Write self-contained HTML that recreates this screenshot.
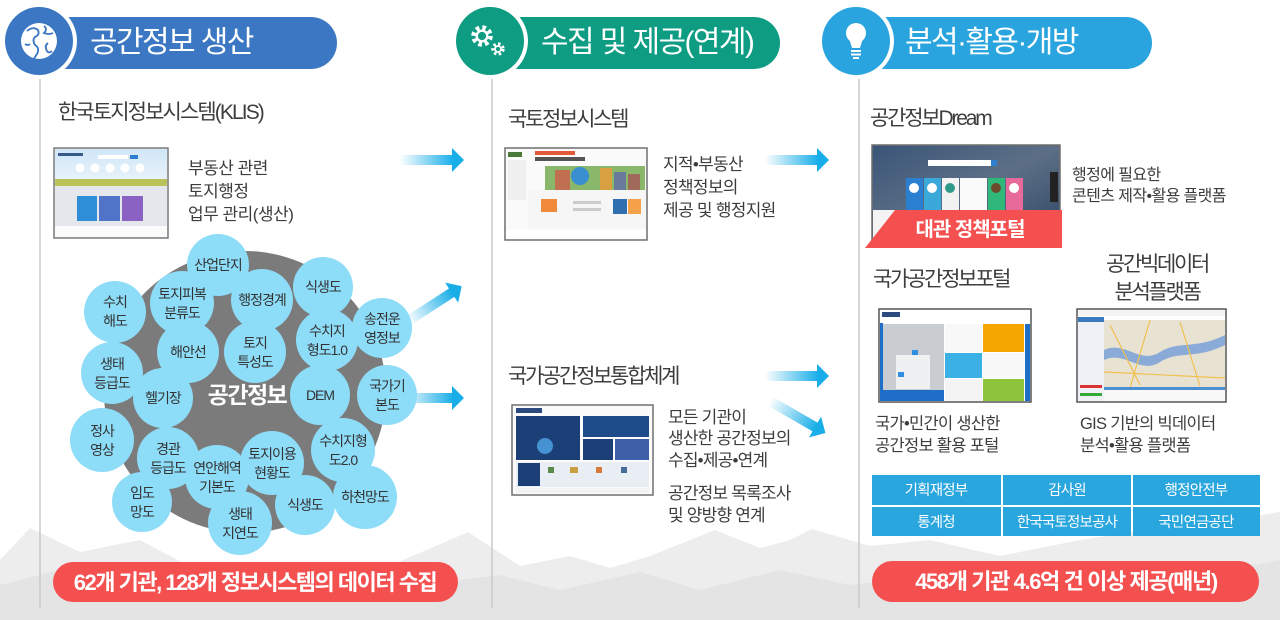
<!DOCTYPE html>
<html><head><meta charset="utf-8">
<style>
html,body{margin:0;padding:0;background:#fff;}
svg{display:block;}
text{font-family:"Liberation Sans","Noto Sans CJK KR",sans-serif;}
.t{fill:#3d3d3d;}
.b{fill:#333;font-size:14px;letter-spacing:-1px;text-anchor:middle;}
</style></head>
<body>
<svg width="1280" height="620" viewBox="0 0 1280 620" xmlns="http://www.w3.org/2000/svg">
<defs>
  <linearGradient id="ag" x1="0" y1="0" x2="1" y2="0">
    <stop offset="0" stop-color="#1aaee8" stop-opacity="0"/>
    <stop offset="1" stop-color="#1aaee8" stop-opacity="1"/>
  </linearGradient>
  <linearGradient id="sky" x1="0" y1="0" x2="0" y2="1">
    <stop offset="0" stop-color="#cfe6f7"/><stop offset="1" stop-color="#eaf3fa"/>
  </linearGradient>
  <linearGradient id="dream" x1="0" y1="0" x2="1" y2="1">
    <stop offset="0" stop-color="#3a5578"/><stop offset="0.5" stop-color="#5c6f86"/><stop offset="1" stop-color="#2f4664"/>
  </linearGradient>
  <g id="arrow">
    <rect x="0" y="-5" width="53" height="10" fill="url(#ag)"/>
    <polygon points="52,-12 64,0 52,12" fill="#1aaee8"/>
  </g>
</defs>

<!-- background mountains -->
<polygon points="0,560 30,528 80,552 140,540 200,572 300,588 380,570 468,532 520,566 570,556 610,568 650,556 690,540 715,530 760,548 790,540 812,529 870,546 930,540 1000,556 1080,540 1160,528 1220,522 1280,512 1280,620 0,620" fill="#ededed"/>
<polygon points="0,585 60,570 120,590 200,580 330,600 420,585 500,575 560,590 640,572 700,590 780,570 850,585 940,575 1050,585 1140,565 1200,575 1280,560 1280,620 0,620" fill="#e4e4e4"/>
<rect x="0" y="606" width="1280" height="14" fill="#e4e4e4"/>

<!-- vertical lines -->
<line x1="40" y1="72" x2="40" y2="608" stroke="#c9c9c9" stroke-width="1.5"/>
<line x1="492" y1="72" x2="492" y2="608" stroke="#c9c9c9" stroke-width="1.5"/>
<line x1="859" y1="72" x2="859" y2="608" stroke="#c9c9c9" stroke-width="1.5"/>

<!-- HEADER 1 -->
<path d="M40,17 H311 A26,26 0 0 1 311,69 H40 Z" fill="#3b77c2"/>
<circle cx="39" cy="41" r="38" fill="#fff"/>
<circle cx="39" cy="41" r="34" fill="#3b77c2"/>
<circle cx="39" cy="41" r="18" fill="#fff"/>
<path d="M27,31 q6,-5 11,-1 q2,5 -3,7 q-3,3 0,8 q5,3 2,9 q-2,3 -4,6 M44,26 q4,3 0,7 q5,2 9,0 M48,43 q-4,3 -1,8 q2,3 5,0 M25,44 q3,2 5,0" stroke="#3b77c2" stroke-width="1.8" fill="none"/>
<text x="90" y="52" fill="#fff" font-size="30" style="letter-spacing:-1.6px">공간정보 생산</text>

<!-- HEADER 2 -->
<path d="M500,17 H754 A26,26 0 0 1 754,69 H500 Z" fill="#0e9c83"/>
<circle cx="490" cy="41" r="38" fill="#fff"/>
<circle cx="490" cy="41" r="34" fill="#0e9c83"/>
<circle cx="482" cy="36" r="8" fill="none" stroke="#fff" stroke-width="5.5" stroke-dasharray="3.4 2.9"/>
<circle cx="482" cy="36" r="5.3" fill="none" stroke="#fff" stroke-width="2.4"/>
<circle cx="498" cy="49" r="4.8" fill="none" stroke="#fff" stroke-width="3.8" stroke-dasharray="2.3 2.2"/>
<circle cx="498" cy="49" r="3" fill="none" stroke="#fff" stroke-width="1.7"/>
<text x="541" y="52" fill="#fff" font-size="30" style="letter-spacing:-1.6px">수집 및 제공(연계)</text>

<!-- HEADER 3 -->
<path d="M868,17 H1126 A26,26 0 0 1 1126,69 H868 Z" fill="#29a4de"/>
<circle cx="856" cy="41" r="38" fill="#fff"/>
<circle cx="856" cy="41" r="34" fill="#29a4de"/>
<circle cx="856" cy="33" r="10" fill="#fff"/>
<polygon points="849,38 863,38 860,48 852,48" fill="#fff"/>
<rect x="851" y="50" width="10" height="2" fill="#fff"/>
<rect x="851" y="53.5" width="10" height="2" fill="#fff"/>
<rect x="853" y="57" width="6" height="2" fill="#fff"/>
<text x="905" y="52" fill="#fff" font-size="30" style="letter-spacing:-1.6px">분석·활용·개방</text>

<!-- COLUMN 1 -->
<text x="58" y="119" class="t" font-size="21" style="letter-spacing:-1.9px">한국토지정보시스템(KLIS)</text>

<!-- KLIS screenshot -->
<g>
  <rect x="54" y="148" width="114" height="90" fill="#f2f4f6" stroke="#7a7a7a" stroke-width="1.5"/>
  <rect x="55" y="149" width="112" height="33" fill="url(#sky)"/>
  <rect x="58" y="153" width="25" height="3" fill="#3a5a8a"/>
  <rect x="98" y="155" width="30" height="4" fill="#fff"/><rect x="130" y="155" width="8" height="4" fill="#2f7fd0"/>
  <circle cx="80" cy="168" r="4.5" fill="#fff"/><circle cx="95" cy="168" r="4.5" fill="#fff"/><circle cx="110" cy="168" r="4.5" fill="#fff"/><circle cx="125" cy="168" r="4.5" fill="#fff"/><circle cx="140" cy="168" r="4.5" fill="#fff"/>
  <rect x="55" y="179" width="112" height="7" fill="#b9c35a"/>
  <rect x="55" y="186" width="112" height="40" fill="#e4e8ec"/>
  <rect x="77" y="196" width="20" height="25" fill="#2f8ed8"/>
  <rect x="99" y="196" width="21" height="25" fill="#4f74c8"/>
  <rect x="122" y="196" width="21" height="25" fill="#8a62c4"/>
  <rect x="55" y="226" width="112" height="11" fill="#fbfbfb"/>
</g>
<text class="t" font-size="17" style="letter-spacing:-0.5px"><tspan x="188" y="174">부동산 관련</tspan><tspan x="188" y="197">토지행정</tspan><tspan x="188" y="220">업무 관리(생산)</tspan></text>

<!-- arrows col1 -->
<use href="#arrow" transform="translate(400,160)"/>
<use href="#arrow" transform="translate(408,321) rotate(-33)"/>
<use href="#arrow" transform="translate(400,398)"/>

<!-- big gray circle & bubbles -->
<circle cx="245" cy="392" r="141" fill="#7b7b7b"/>
<g fill="#8ddcf8">
  <circle cx="218" cy="265" r="31"/>
  <circle cx="115" cy="312" r="31"/>
  <circle cx="182" cy="303" r="32"/>
  <circle cx="262" cy="300" r="31"/>
  <circle cx="323" cy="287" r="30"/>
  <circle cx="382" cy="328" r="30"/>
  <circle cx="188" cy="352" r="31"/>
  <circle cx="255" cy="352" r="31"/>
  <circle cx="327" cy="340" r="31"/>
  <circle cx="112" cy="373" r="31"/>
  <circle cx="163" cy="398" r="30"/>
  <circle cx="320" cy="395" r="30"/>
  <circle cx="387" cy="395" r="30"/>
  <circle cx="102" cy="440" r="32"/>
  <circle cx="168" cy="458" r="31"/>
  <circle cx="343" cy="450" r="32"/>
  <circle cx="272" cy="463" r="32"/>
  <circle cx="217" cy="477" r="32"/>
  <circle cx="142" cy="502" r="30"/>
  <circle cx="305" cy="505" r="30"/>
  <circle cx="365" cy="497" r="32"/>
  <circle cx="240" cy="523" r="32"/>
</g>
<text x="247" y="403" fill="#fff" font-size="23" font-weight="bold" text-anchor="middle" style="letter-spacing:-1.5px">공간정보</text>
<text class="b" x="218" y="270">산업단지</text>
<text class="b"><tspan x="115" y="307">수치</tspan><tspan x="115" y="326">해도</tspan></text>
<text class="b"><tspan x="182" y="299">토지피복</tspan><tspan x="182" y="318">분류도</tspan></text>
<text class="b" x="262" y="305">행정경계</text>
<text class="b" x="323" y="292">식생도</text>
<text class="b"><tspan x="382" y="324">송전운</tspan><tspan x="382" y="343">영정보</tspan></text>
<text class="b" x="188" y="357">해안선</text>
<text class="b"><tspan x="255" y="348">토지</tspan><tspan x="255" y="367">특성도</tspan></text>
<text class="b"><tspan x="327" y="336">수치지</tspan><tspan x="327" y="355">형도1.0</tspan></text>
<text class="b"><tspan x="112" y="369">생태</tspan><tspan x="112" y="388">등급도</tspan></text>
<text class="b" x="163" y="403">헬기장</text>
<text class="b" x="320" y="400">DEM</text>
<text class="b"><tspan x="387" y="391">국가기</tspan><tspan x="387" y="410">본도</tspan></text>
<text class="b"><tspan x="102" y="436">정사</tspan><tspan x="102" y="455">영상</tspan></text>
<text class="b"><tspan x="168" y="454">경관</tspan><tspan x="168" y="473">등급도</tspan></text>
<text class="b"><tspan x="343" y="446">수치지형</tspan><tspan x="343" y="465">도2.0</tspan></text>
<text class="b"><tspan x="272" y="459">토지이용</tspan><tspan x="272" y="478">현황도</tspan></text>
<text class="b"><tspan x="217" y="473">연안해역</tspan><tspan x="217" y="492">기본도</tspan></text>
<text class="b"><tspan x="142" y="498">임도</tspan><tspan x="142" y="517">망도</tspan></text>
<text class="b" x="305" y="510">식생도</text>
<text class="b" x="365" y="502">하천망도</text>
<text class="b"><tspan x="240" y="519">생태</tspan><tspan x="240" y="538">지연도</tspan></text>

<!-- red pill left -->
<rect x="53" y="562" width="405" height="40" rx="20" fill="#f45050"/>
<text x="255" y="590" fill="#fff" font-size="22" font-weight="bold" text-anchor="middle" style="letter-spacing:-1.5px">62개 기관, 128개 정보시스템의 데이터 수집</text>

<!-- COLUMN 2 -->
<text x="508" y="126" class="t" font-size="21" style="letter-spacing:-2.3px">국토정보시스템</text>
<!-- 국토정보시스템 screenshot -->
<g>
  <rect x="505" y="148" width="142" height="92" fill="#fafafa" stroke="#6f6f6f" stroke-width="1.5"/>
  <rect x="508" y="152" width="14" height="5" fill="#4a7a3a"/>
  <rect x="508" y="160" width="18" height="40" fill="#f0f0f0"/>
  <rect x="535" y="151" width="40" height="4" fill="#e35a3a"/>
  <rect x="535" y="157" width="50" height="4" fill="#555"/>
  <rect x="545" y="166" width="100" height="24" fill="#8ab86a"/>
  <circle cx="580" cy="176" r="9" fill="#3a8fd0"/>
  <rect x="600" y="168" width="12" height="22" fill="#d8a040"/>
  <rect x="614" y="172" width="12" height="18" fill="#6a7a9a"/>
  <rect x="555" y="170" width="15" height="20" fill="#c07050"/>
  <rect x="628" y="174" width="12" height="16" fill="#a06a5a"/>
  <rect x="528" y="190" width="118" height="38" fill="#f6f6f6"/>
  <rect x="541" y="199" width="16" height="13" fill="#f08a3a"/>
  <rect x="573" y="201" width="28" height="3" fill="#ccc"/>
  <rect x="573" y="208" width="28" height="3" fill="#ccc"/>
  <rect x="613" y="199" width="14" height="15" fill="#2f6fb0"/>
  <rect x="628" y="199" width="13" height="15" fill="#f4a14a"/>
  <rect x="506" y="230" width="140" height="9" fill="#fff"/>
</g>
<text class="t" font-size="17" style="letter-spacing:-0.7px"><tspan x="663" y="170">지적•부동산</tspan><tspan x="663" y="193">정책정보의</tspan><tspan x="663" y="216">제공 및 행정지원</tspan></text>
<use href="#arrow" transform="translate(765,160)"/>

<text x="508" y="383" class="t" font-size="21" style="letter-spacing:-2.3px">국가공간정보통합체계</text>
<!-- 통합체계 screenshot -->
<g>
  <rect x="512" y="405" width="141" height="90" fill="#fbfbfb" stroke="#6f6f6f" stroke-width="1.5"/>
  <rect x="516" y="408" width="26" height="5" fill="#2a4a80"/>
  <rect x="516" y="416" width="64" height="44" fill="#1d3f78"/>
  <circle cx="545" cy="446" r="8" fill="#4fa8e8" opacity="0.8"/>
  <rect x="583" y="416" width="66" height="21" fill="#1e4b8a"/>
  <rect x="583" y="439" width="30" height="21" fill="#1d3f78"/>
  <rect x="615" y="439" width="34" height="21" fill="#3f5fa8"/>
  <rect x="516" y="462" width="133" height="25" fill="#e9edf4"/>
  <rect x="518" y="463" width="22" height="23" fill="#1d3f78"/>
  <rect x="548" y="467" width="6" height="6" fill="#5a8a4a"/><rect x="570" y="467" width="8" height="6" fill="#c8a040"/><rect x="596" y="467" width="6" height="6" fill="#d87a3a"/><rect x="621" y="467" width="6" height="6" fill="#4a6a9a"/>
  <rect x="516" y="488" width="133" height="5" fill="#f3f3f3"/>
</g>
<text class="t" font-size="17" style="letter-spacing:-0.8px"><tspan x="668" y="423">모든 기관이</tspan><tspan x="668" y="444">생산한 공간정보의</tspan><tspan x="668" y="466">수집•제공•연계</tspan><tspan x="668" y="499">공간정보 목록조사</tspan><tspan x="668" y="521">및 양방향 연계</tspan></text>
<use href="#arrow" transform="translate(765,376)"/>
<use href="#arrow" transform="translate(770,401) rotate(30)"/>

<!-- COLUMN 3 -->
<text x="870" y="125" class="t" font-size="21" style="letter-spacing:-2.2px">공간정보Dream</text>
<!-- Dream screenshot -->
<g>
  <rect x="872" y="145" width="188" height="95" fill="url(#dream)" stroke="#6f6f6f" stroke-width="1.5"/>
  <rect x="928" y="160" width="63" height="6" fill="#fff"/><rect x="991" y="160" width="6" height="6" fill="#2f7fd0"/>
  <rect x="906" y="178" width="17" height="32" fill="#2a7fd0"/>
  <rect x="924" y="178" width="17" height="32" fill="#3aa8d8"/>
  <rect x="942" y="178" width="17" height="32" fill="#f2f2f2"/>
  <rect x="960" y="178" width="27" height="32" fill="#fafafa"/>
  <rect x="988" y="178" width="17" height="32" fill="#2fb87a"/>
  <rect x="1006" y="178" width="17" height="32" fill="#e86a9a"/>
  <circle cx="914" cy="188" r="5" fill="#fff"/><circle cx="932" cy="188" r="5" fill="#fff"/><circle cx="950" cy="188" r="5" fill="#2f9a8a"/><circle cx="996" cy="188" r="5" fill="#6a4a2a"/><circle cx="1014" cy="188" r="5" fill="#fff"/>
  <rect x="1050" y="172" width="8" height="30" fill="#222"/>
  <rect x="873" y="210" width="186" height="29" fill="#f4f4f4"/>
</g>
<polygon points="895,210 1062,210 1062,248 865,248" fill="#f45050"/>
<text x="970" y="236" fill="#fff" font-size="20" font-weight="bold" text-anchor="middle" style="letter-spacing:-1px">대관 정책포털</text>
<text class="t" font-size="16" style="letter-spacing:-0.6px"><tspan x="1072" y="180">행정에 필요한</tspan><tspan x="1072" y="201">콘텐츠 제작•활용 플랫폼</tspan></text>

<text x="873" y="286" class="t" font-size="21" style="letter-spacing:-2.3px">국가공간정보포털</text>
<text class="t" font-size="21" text-anchor="middle" style="letter-spacing:-2.3px"><tspan x="1157" y="271">공간빅데이터</tspan><tspan x="1157" y="299">분석플랫폼</tspan></text>

<!-- 국가공간정보포털 screenshot -->
<g>
  <rect x="879" y="309" width="152" height="93" fill="#fff" stroke="#555" stroke-width="1.5"/>
  <rect x="882" y="312" width="18" height="5" fill="#2a4a80"/>
  <rect x="880" y="323" width="3" height="78" fill="#1e6ec8"/>
  <rect x="883" y="324" width="61" height="77" fill="#c9cdd2"/>
  <rect x="896" y="355" width="34" height="34" fill="#eef0f2"/>
  <rect x="912" y="350" width="6" height="5" fill="#2f8ee0"/><rect x="898" y="372" width="6" height="5" fill="#2f8ee0"/>
  <rect x="883" y="390" width="61" height="11" fill="#1e6ec8"/>
  <rect x="945" y="324" width="37" height="28" fill="#f8f8f8"/>
  <rect x="945" y="353" width="37" height="25" fill="#3bb0e4"/>
  <rect x="945" y="379" width="37" height="22" fill="#f4f4f4"/>
  <rect x="983" y="324" width="41" height="28" fill="#f6a600"/>
  <rect x="983" y="353" width="41" height="25" fill="#f8f8f8"/>
  <rect x="983" y="379" width="41" height="22" fill="#8cc43c"/>
  <rect x="1025" y="324" width="5" height="77" fill="#1e6ec8"/>
</g>
<!-- 빅데이터 screenshot -->
<g>
  <rect x="1077" y="309" width="149" height="93" fill="#fff" stroke="#555" stroke-width="1.5"/>
  <rect x="1078" y="310" width="147" height="6" fill="#f4f4f4"/>
  <rect x="1078" y="317" width="26" height="84" fill="#eef2f6"/>
  <rect x="1078" y="317" width="26" height="5" fill="#3b7ac0"/>
  <rect x="1080" y="385" width="22" height="3" fill="#d33"/><rect x="1080" y="393" width="22" height="3" fill="#3a3"/>
  <rect x="1104" y="320" width="121" height="68" fill="#e8e2d2"/>
  <path d="M1104,350 C1125,340 1140,365 1160,352 C1180,340 1195,350 1225,335 L1225,345 C1195,360 1180,350 1160,362 C1140,375 1125,350 1104,360 Z" fill="#8aaad8"/>
  <path d="M1110,325 L1140,385 M1150,320 L1130,388 M1180,322 L1200,386 M1104,372 L1225,378" stroke="#f0c050" stroke-width="1.2" fill="none"/>
  <rect x="1104" y="387" width="121" height="3" fill="#4a90d0"/>
  <rect x="1104" y="390" width="121" height="11" fill="#f8f8f8"/>
</g>
<text class="t" font-size="16.5" style="letter-spacing:-0.7px"><tspan x="875" y="429">국가•민간이 생산한</tspan><tspan x="875" y="451">공간정보 활용 포털</tspan></text>
<text class="t" font-size="16.5" style="letter-spacing:-0.7px"><tspan x="1080" y="429">GIS 기반의 빅데이터</tspan><tspan x="1080" y="451">분석•활용 플랫폼</tspan></text>

<!-- table -->
<g fill="#2aa6df">
  <rect x="872" y="475" width="129" height="30"/>
  <rect x="1003" y="475" width="128" height="30"/>
  <rect x="1133" y="475" width="127" height="30"/>
  <rect x="872" y="507" width="129" height="29"/>
  <rect x="1003" y="507" width="128" height="29"/>
  <rect x="1133" y="507" width="127" height="29"/>
</g>
<g fill="#fff" font-size="14.5" text-anchor="middle" style="letter-spacing:-0.8px">
  <text x="936" y="495">기획재정부</text>
  <text x="1067" y="495">감사원</text>
  <text x="1196" y="495">행정안전부</text>
  <text x="936" y="527">통계청</text>
  <text x="1067" y="527">한국국토정보공사</text>
  <text x="1196" y="527">국민연금공단</text>
</g>

<!-- red pill right -->
<rect x="872" y="561" width="387" height="41" rx="20.5" fill="#f45050"/>
<text x="1066" y="589" fill="#fff" font-size="22" font-weight="bold" text-anchor="middle" style="letter-spacing:-1.4px">458개 기관 4.6억 건 이상 제공(매년)</text>
</svg>
</body></html>
